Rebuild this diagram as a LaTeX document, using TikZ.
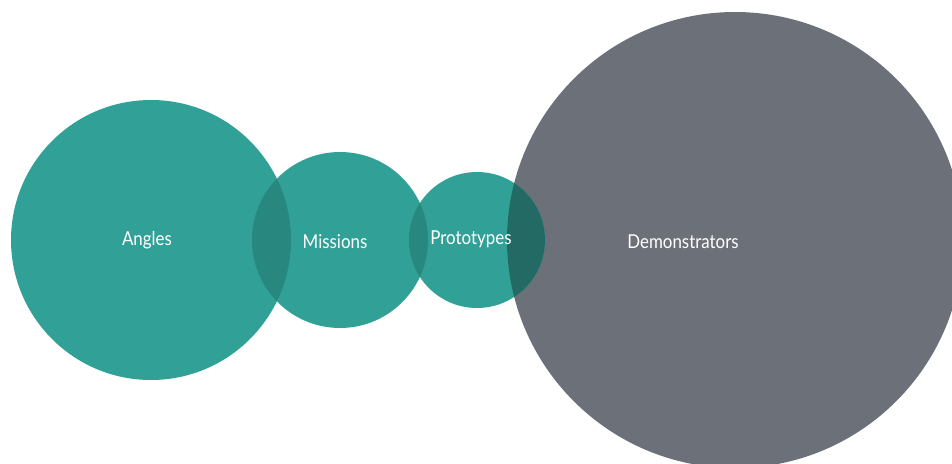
\documentclass[tikz,border=0pt]{standalone}
\usepackage{fontspec}
\setmainfont{Lato}[FakeStretch=0.88]
\definecolor{teal1}{HTML}{31A198}
\definecolor{teal2}{HTML}{28887F}
\definecolor{gray1}{HTML}{6C7078}
\definecolor{dark1}{HTML}{236A65}
\tikzset{
  bubble/.style={circle, inner sep=0pt, outer sep=0pt, text=white, font=\fontsize{19.2}{22}\selectfont},
}
\begin{document}
\begin{tikzpicture}[x=1pt,y=-1pt]
\useasboundingbox (0,0) rectangle (952,463);
% circles
\fill[gray1] (735,240) circle (228);
\fill[teal1] (151,240) circle (140);
\fill[teal1] (340,240) circle (88);
\fill[teal1] (477,240) circle (68);
% overlaps
\begin{scope}
  \clip (151,240) circle (140);
  \fill[teal2] (340,240) circle (88);
\end{scope}
\begin{scope}
  \clip (340,240) circle (88);
  \fill[teal2] (477,240) circle (68);
\end{scope}
\begin{scope}
  \clip (477,240) circle (68);
  \fill[dark1] (735,240) circle (228);
\end{scope}
% labels
\node[bubble] (angles) at (147,240.5) {Angles};
\node[bubble] (missions) at (335,241.5) {Missions};
\node[bubble] (proto) at (471,239.5) {Prototypes};
\node[bubble] (demo) at (683,241.5) {Demonstrators};
\end{tikzpicture}
\end{document}
